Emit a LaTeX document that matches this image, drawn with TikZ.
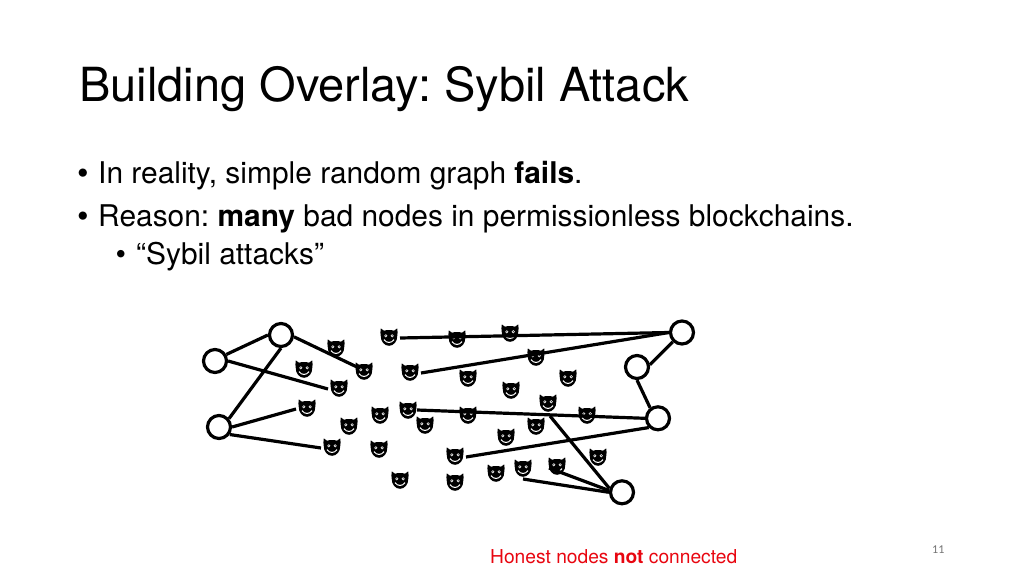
\documentclass[tikz,border=0pt]{standalone}
\usepackage{fontspec}
\setmainfont{TeX Gyre Heros}
\newfontfamily\numfont{Carlito}
\definecolor{redtxt}{RGB}{232,6,16}
\tikzset{
  honest/.style={circle,draw=black,line width=3.2pt,fill=white,minimum size=23pt,inner sep=0pt},
  link/.style={draw=black,line width=3.2pt},
  txt/.style={inner sep=0pt,anchor=base west,text=black},
  devil/.pic={
    \fill[black] (-8.2,-8.6) -- (-5,-6.3) .. controls (-2,-7.2) and (2,-7.2) .. (5,-6.3) -- (8.2,-8.6)
      .. controls (8.8,-5.5) and (8.6,-3.5) .. (8.3,-1.5) .. controls (8.5,4.5) and (4.5,8.8) .. (0,8.8)
      .. controls (-4.5,8.8) and (-8.5,4.5) .. (-8.3,-1.5) .. controls (-8.6,-3.5) and (-8.8,-5.5) .. (-8.2,-8.6) -- cycle;
    \fill[white] (-3.2,-1.2) circle (1.6) (3.2,-1.2) circle (1.6);
    \fill[black] (-3.2,-1.2) circle (0.6) (3.2,-1.2) circle (0.6);
    \draw[white,line width=1pt] (-5,2.6) .. controls (-2.5,6.4) and (2.5,6.4) .. (5,2.6);
  }
}
\begin{document}
\frenchspacing
\begin{tikzpicture}[x=1pt,y=-1pt]
\useasboundingbox (0,0) rectangle (1024,576);
\node[txt,font=\fontsize{47}{47}\selectfont] (title) at (79,101) {Building Overlay: Sybil Attack};
\node[txt,font=\fontsize{33}{33}\selectfont] (b1) at (77,184) {•};
\node[txt,font=\fontsize{29.9}{29.9}\selectfont] (l1) at (98,183) {In reality, simple random graph \textbf{fails}.};
\node[txt,font=\fontsize{33}{33}\selectfont] (b2) at (77,227) {•};
\node[txt,font=\fontsize{29.9}{29.9}\selectfont] (l2) at (98,226) {Reason: \textbf{many} bad nodes in permissionless blockchains.};
\node[txt,font=\fontsize{30}{30}\selectfont] (b3) at (115.5,264.5) {•};
\node[txt,font=\fontsize{29.9}{29.9}\selectfont] (l3) at (136,264) {“Sybil attacks”};
\node[txt,text=redtxt,font=\fontsize{19.2}{19.2}\selectfont] (cap) at (490,563) {Honest nodes \textbf{not} connected};
\node[txt,text=black!55,font=\numfont\fontsize{12}{12}\selectfont] (num) at (932,553) {11};
\foreach \n/\x/\y in {1/336/348,2/389/337,3/304/369,4/364/371,5/410/372,6/339/388,7/307/408,8/408/410,9/380/415,10/349/426,11/425/425,12/332/447,13/379/449,14/400/480,15/457/339,16/510/333,17/536/357,18/468/378,19/568/378,20/511/390,21/548/403,22/468/415,23/587/415,24/536/426,25/506/437,26/455/456,27/598/457,28/557/466,29/523/468,30/496/473,31/455/482}
  \pic at (\x,\y) {devil};
\node[honest] (A) at (215,361) {};
\node[honest] (B) at (281,335) {};
\node[honest] (C) at (219,427) {};
\node[honest] (E) at (682,332.5) {};
\node[honest] (F) at (637,367) {};
\node[honest] (G) at (658,418.3) {};
\node[honest] (H) at (622,492.3) {};
\coordinate (p1) at (357,367);
\coordinate (p2) at (328,389);
\coordinate (p3) at (296,409);
\coordinate (p4) at (321,448);
\coordinate (p5) at (400,338);
\coordinate (p6) at (421,373);
\coordinate (p7) at (417,410);
\coordinate (p8) at (466,457);
\coordinate (p9) at (550,416);
\coordinate (p10) at (523,479);
\coordinate (p11) at (549,468);
\draw[link] (A.30) -- (B.180);
\draw[link] (B.270) -- (C.40);
\draw[link] (B.-8) -- (p1);
\draw[link] (A.0) -- (p2);
\draw[link] (C.0) -- (p3);
\draw[link] (C.-35) -- (p4);
\draw[link] (p5) -- (E.180);
\draw[link] (p6) -- (E.180);
\draw[link] (E.225) -- (F.10);
\draw[link] (F.270) -- (G.127);
\draw[link] (p7) -- (G.180);
\draw[link] (p8) -- (G.225);
\draw[link] (p9) -- (H.163);
\draw[link] (p10) -- (H.180);
\draw[link] (p11) -- (H.172);
\end{tikzpicture}
\end{document}
